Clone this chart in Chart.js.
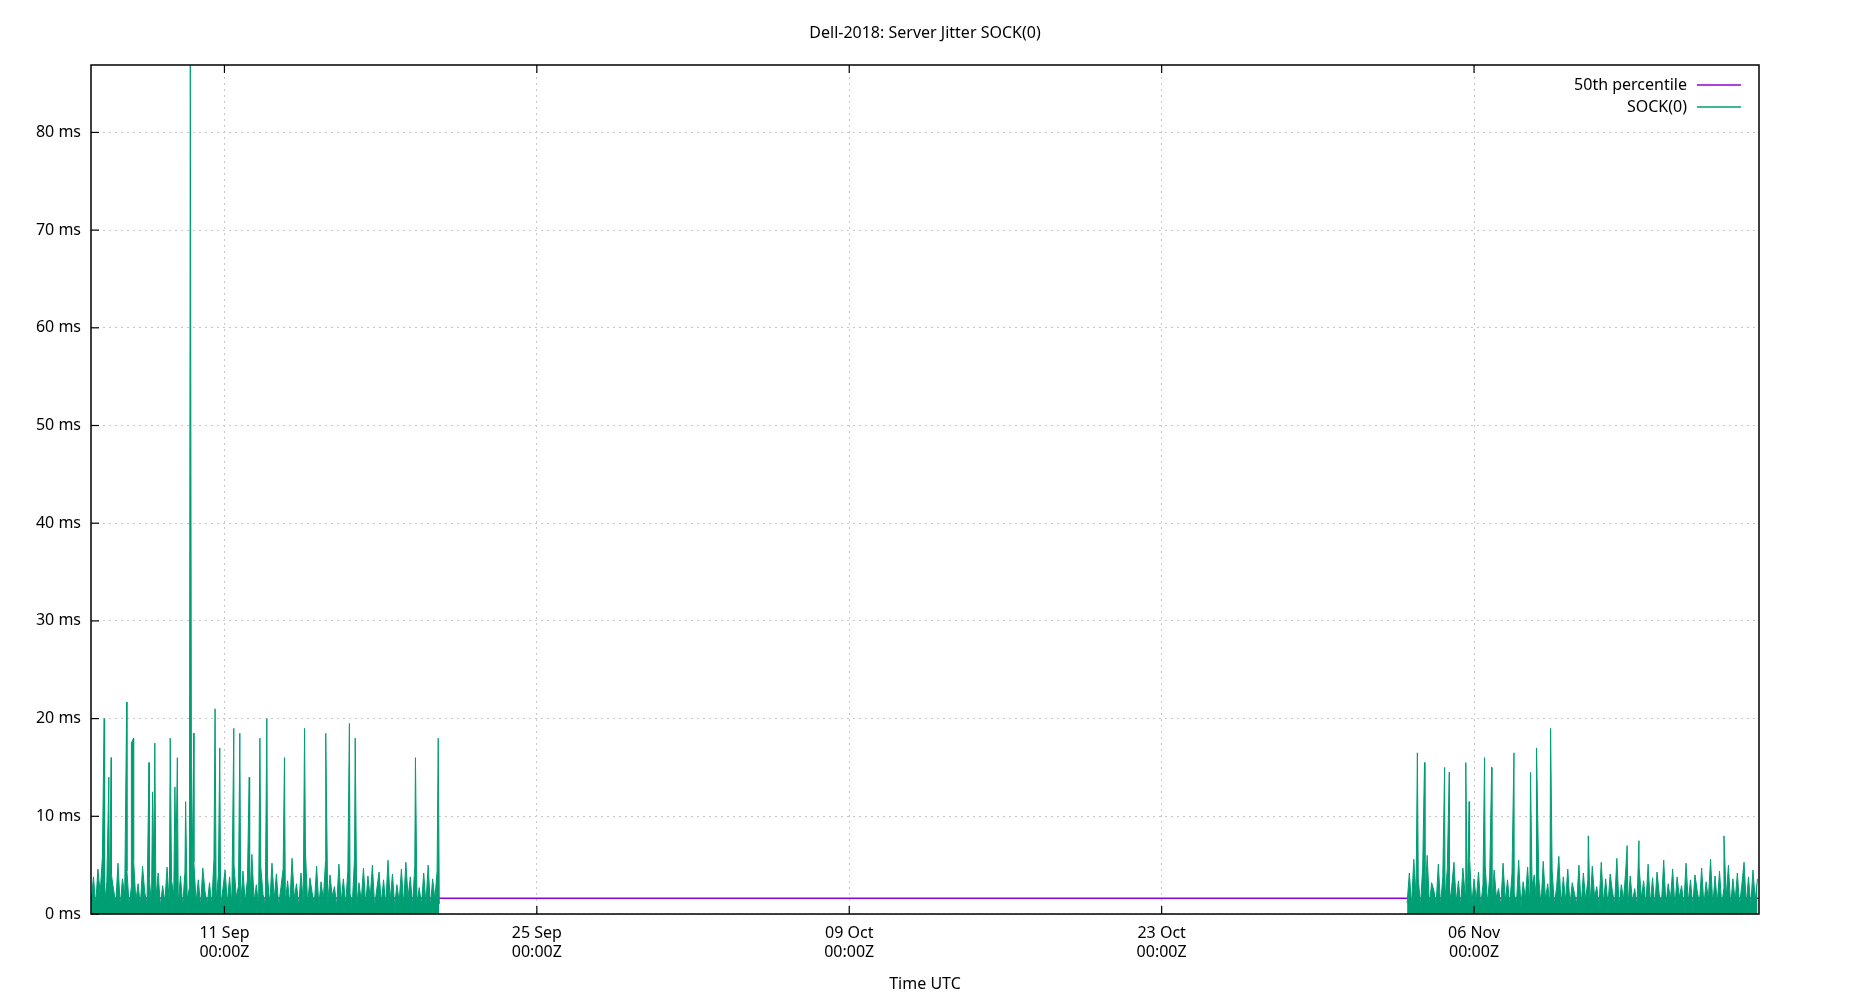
<!DOCTYPE html>
<html><head><meta charset="utf-8">
<script src="https://cdn.jsdelivr.net/npm/chart.js@4/dist/chart.umd.min.js"></script>
<style>html,body{margin:0;padding:0;background:#fff}#w{width:1850px;height:1000px}</style>
</head><body><div id="w"><canvas id="c"></canvas></div>
<script>
// x values are days relative to 11 Sep 00:00Z
const xTickDays = [0, 14, 28, 42, 56];
const xTickLabels = [["11 Sep","00:00Z"],["25 Sep","00:00Z"],["09 Oct","00:00Z"],["23 Oct","00:00Z"],["06 Nov","00:00Z"]];
const xMinDay = -5.98, xMaxDay = 68.77;
const medianValue = 1.6;
const seg1Start = -5.97, seg2Start = 53.0, noiseStep = 0.1;
const seg1Noise = [1.2,3.8,0.9,4.6,2.1,5.8,1.0,3.3,0.7,4.1,2.5,1.1,5.2,0.8,3.6,1.9,4.4,0.9,2.8,5.5,
1.3,3.1,0.8,4.9,2.2,1.0,3.7,0.9,5.1,1.6,4.2,0.8,2.9,1.2,4.8,0.9,3.4,2.0,5.9,1.1,
3.9,0.8,4.3,1.5,2.7,0.9,5.3,1.2,3.5,0.8,4.7,2.3,1.0,3.2,0.9,5.6,1.4,4.0,0.8,2.6,
4.5,1.1,3.8,0.9,5.0,1.7,2.9,0.8,4.4,1.2,3.6,0.9,6.1,1.3,3.0,0.8,4.8,2.0,1.0,3.9,
0.9,5.2,1.5,4.1,0.8,2.7,4.6,1.1,3.4,0.9,5.7,1.6,3.1,0.8,4.2,1.2,6.4,0.9,3.7,2.2,
1.0,4.9,0.8,3.3,1.4,5.4,0.9,4.0,1.8,2.8,0.8,5.1,1.2,3.6,0.9,4.4,2.1,1.0,5.8,0.8,
3.2,1.3,4.7,0.9,3.9,1.6,5.0,0.8,2.6,4.3,1.1,3.5,0.9,5.5,1.4,4.1,0.8,3.0,1.2,4.6,
0.9,5.3,1.7,3.8,0.8,4.9,1.1,2.7,0.9,4.2,1.0,5.0,0.8,3.6,1.5,4.4,1.0];
const seg2Noise = [1.1,4.2,0.9,5.6,1.8,3.7,0.8,4.9,1.3,6.0,0.9,3.2,2.4,1.0,5.1,0.8,3.9,1.5,4.6,0.9,
2.8,5.3,1.2,3.4,0.8,4.7,2.0,1.0,5.8,0.9,3.6,1.4,4.3,0.8,3.0,5.0,1.1,3.8,0.9,4.5,
1.7,2.6,0.8,5.2,1.3,3.5,0.9,4.1,2.2,1.0,5.5,0.8,3.3,1.6,4.8,0.9,2.9,4.0,1.2,3.7,
0.8,5.4,1.5,3.1,0.9,4.4,1.0,2.7,5.9,0.8,3.8,1.3,4.6,0.9,3.2,2.1,1.0,5.0,0.8,4.2,
1.4,3.5,0.9,4.9,1.7,2.8,0.8,5.3,1.1,3.6,0.9,4.1,2.3,1.0,5.7,0.8,3.0,1.5,4.5,0.9,
3.9,1.2,2.6,0.8,4.8,1.6,3.4,0.9,5.1,1.0,3.7,0.8,4.3,2.0,1.1,5.5,0.9,3.1,1.4,4.6,
0.8,3.8,1.7,2.9,0.9,5.2,1.2,3.5,0.8,4.0,2.4,1.0,4.7,0.9,3.3,1.5,5.6,0.8,3.9,1.1,
4.4,0.9,2.7,1.6,5.0,0.8,3.6,1.3,4.2,0.9,3.0,5.3,1.0,3.8,0.8,4.5,1.4,3.6];
const spikeDays = [-5.39,-5.18,-5.07,-4.38,-4.17,-4.07,-3.38,-3.22,-3.12,-2.43,-2.22,-2.11,-1.74,-1.53,-1.37,-0.42,-0.21,0.42,0.69,1.11,1.59,1.90,2.69,3.59,4.54,5.60,5.86,8.56,9.58,
53.46,53.78,54.68,54.89,55.63,55.78,56.47,56.79,57.79,58.53,58.80,59.43,61.12,62.86,63.39,67.2];
const spikeValues = [20,14,16,21.7,17.5,18,15.5,12.5,17.5,18,13,16,11.5,87,18.5,21,17,19,18.5,14,18,20,16,19,18.5,19.5,18,16,18,
16.5,15.5,15,14.5,15.5,11.5,16,15,16.5,14.5,17,19,8,7,7.5,8];

function buildSeg(start, noise){
  const pts = noise.map((v,i)=>({x:start+i*noiseStep,y:v}));
  const end = start+(noise.length-1)*noiseStep;
  spikeDays.forEach((d,i)=>{ if(d>=start && d<=end) pts.push({x:d,y:spikeValues[i]}); });
  return pts.sort((a,b)=>a.x-b.x);
}
const sockData = buildSeg(seg1Start, seg1Noise).concat([{x:30,y:null}], buildSeg(seg2Start, seg2Noise));
const medianData = [{x:xMinDay,y:medianValue},{x:xMaxDay,y:medianValue}];

const FONT = '"Noto Sans", sans-serif';
const extras = {
  id:'extras',
  afterDraw(chart){
    const ctx = chart.ctx, a = chart.chartArea;
    ctx.save();
    ctx.fillStyle='#000'; ctx.font='16px '+FONT; ctx.textAlign='center'; ctx.textBaseline='middle';
    ctx.fillText('Dell-2018: Server Jitter SOCK(0)', (a.left+a.right)/2, 33);
    ctx.strokeStyle='#000'; ctx.lineWidth=1.5; ctx.strokeRect(a.left, a.top, a.right-a.left, a.bottom-a.top);
    ctx.lineWidth=1.2;
    chart.scales.x.ticks.forEach(t=>{const px=chart.scales.x.getPixelForValue(t.value);
      ctx.beginPath();ctx.moveTo(px,a.bottom);ctx.lineTo(px,a.bottom-8);ctx.moveTo(px,a.top);ctx.lineTo(px,a.top+8);ctx.stroke();});
    chart.scales.y.ticks.forEach(t=>{const py=chart.scales.y.getPixelForValue(t.value);
      ctx.beginPath();ctx.moveTo(a.left,py);ctx.lineTo(a.left+8,py);ctx.stroke();});
    ctx.font='16px '+FONT; ctx.textAlign='right';
    const items=[['50th percentile','#9400d3'],['SOCK(0)','#009e73']];
    items.forEach((it,i)=>{const y=85+i*22;
      ctx.fillStyle='#000'; ctx.fillText(it[0],1687,y);
      ctx.strokeStyle=it[1]; ctx.lineWidth=1.5; ctx.beginPath(); ctx.moveTo(1697,y); ctx.lineTo(1741,y); ctx.stroke();});
    ctx.restore();
  }
};

new Chart(document.getElementById('c'), {
  type:'line',
  data:{datasets:[
    {label:'SOCK(0)', data:sockData, borderColor:'#009e73', backgroundColor:'#009e73', fill:'origin', borderWidth:1, pointRadius:0, spanGaps:false, tension:0, order:1},
    {label:'50th percentile', data:medianData, borderColor:'#9400d3', borderWidth:1.5, pointRadius:0, tension:0, order:2}
  ]},
  plugins:[extras],
  options:{
    responsive:true, maintainAspectRatio:false, animation:false,
    layout:{padding:{left:0,right:91,top:65,bottom:0}},
    plugins:{legend:{display:false}, title:{display:false}, tooltip:{enabled:false}, filler:{propagate:false}},
    scales:{
      x:{type:'linear', min:xMinDay, max:xMaxDay,
        afterBuildTicks:s=>{s.ticks=xTickDays.map(v=>({value:v}));},
        afterFit:s=>{s.height=86;},
        border:{display:false, dash:[2,4]},
        grid:{color:'#c8c8c8', drawTicks:false},
        ticks:{color:'#000', font:{family:FONT,size:16}, padding:10, maxRotation:0,
          callback:(v)=>{const i=xTickDays.indexOf(v);return i>=0?xTickLabels[i]:'';}},
        title:{display:true, text:'Time UTC', color:'#000', font:{family:FONT,size:16}, padding:{top:4,bottom:6}}
      },
      y:{min:0, max:86.9,
        afterBuildTicks:s=>{s.ticks=[0,10,20,30,40,50,60,70,80].map(v=>({value:v}));},
        afterFit:s=>{s.width=91;},
        border:{display:false, dash:[2,4]},
        grid:{color:'#c8c8c8', drawTicks:false},
        ticks:{color:'#000', font:{family:FONT,size:16}, padding:10, callback:v=>v+' ms'}
      }
    }
  }
});
</script></body></html>
